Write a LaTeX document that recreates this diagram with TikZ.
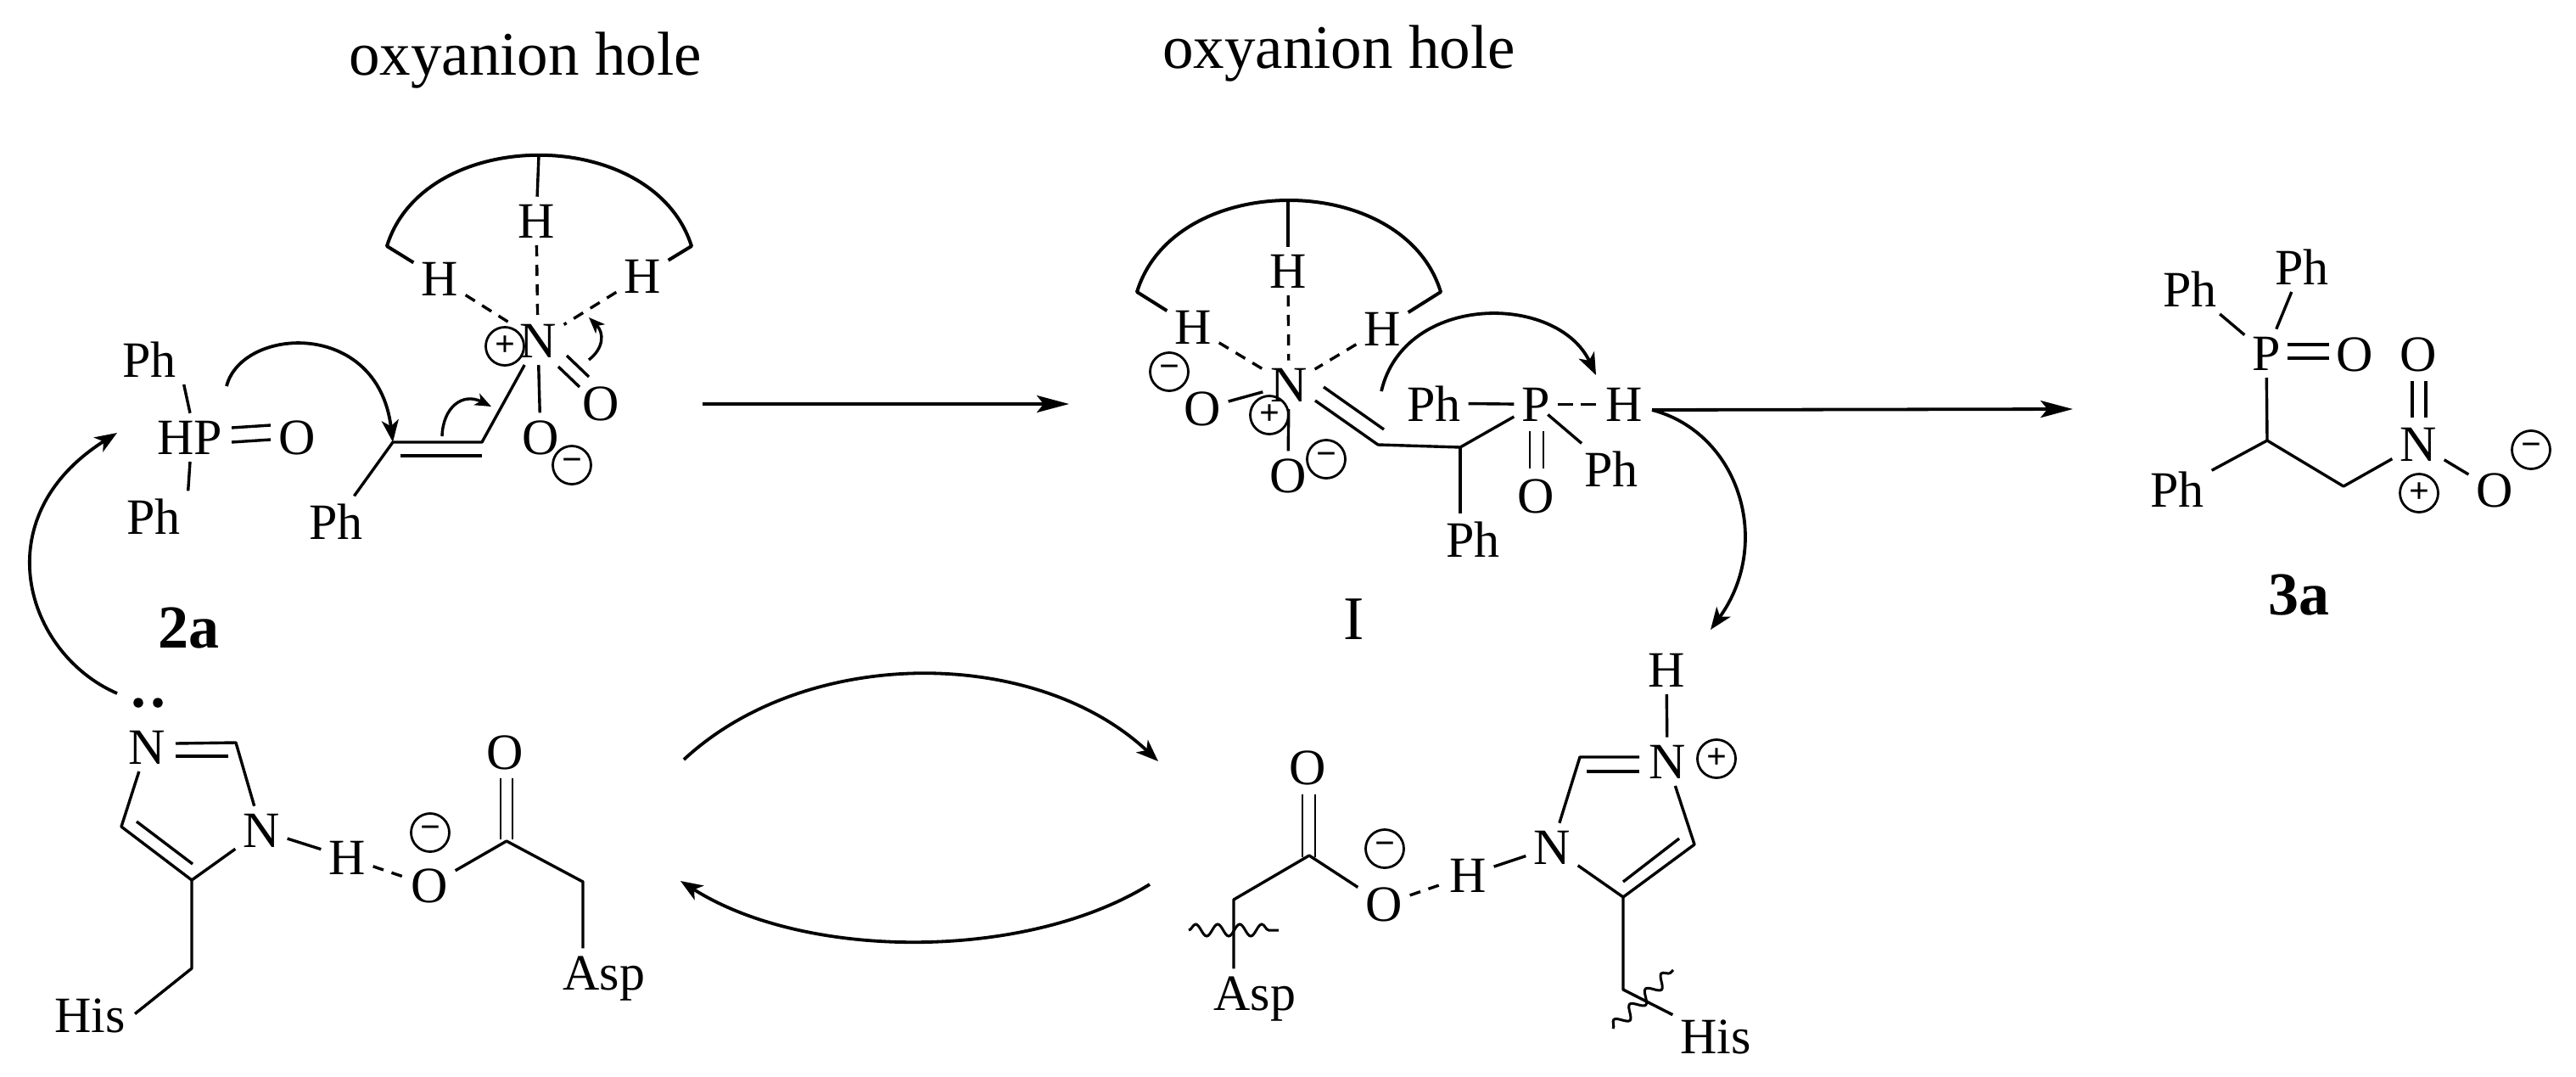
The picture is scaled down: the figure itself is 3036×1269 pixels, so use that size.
\documentclass[tikz,border=0pt]{standalone}
\usepackage{fontspec}
\setmainfont{Liberation Serif}
\usetikzlibrary{arrows.meta,decorations.pathmorphing,calc}
\newcommand\ptc[3]{\coordinate (#1) at (#2,#3);}
\newcommand\atom[4]{\node[atomlabel] (#1) at (#2,#3) {#4};}
\newcommand\chg[4]{\node[chargemark] (#1) at (#2,#3) {\bfseries #4};}
\tikzset{
  atomlabel/.style={anchor=base,inner sep=0pt,outer sep=9pt,font=\fontsize{60}{60}\selectfont},
  titlelabel/.style={anchor=base,inner sep=0pt,font=\fontsize{73}{73}\selectfont},
  boldlabel/.style={anchor=base,inner sep=0pt,font=\fontsize{72}{72}\selectfont\bfseries},
  chargemark/.style={circle,draw,line width=2.8pt,minimum size=45pt,inner sep=0pt,font=\fontsize{42}{42}\selectfont},
  bond/.style={line width=3.4pt},
  hbond/.style={line width=3.4pt,dash pattern=on 13pt off 10pt},
  hole/.style={line width=4pt,line join=round},
  curly/.style={line width=3.8pt,-{Stealth[length=26pt,width=20pt,inset=7pt]}},
  smallcurly/.style={line width=3.4pt,-{Stealth[length=19pt,width=15pt,inset=5pt]}},
  react/.style={line width=3.8pt,-{Stealth[length=38pt,width=20pt,inset=8pt]}},
  wiggle/.style={line width=3pt,decorate,decoration={snake,amplitude=7pt,segment length=26pt,pre length=0pt,post length=0pt}},
  lonepair/.style={circle,fill,inner sep=0pt,minimum size=11.5pt},
}
\begin{document}
\begin{tikzpicture}[x=1pt,y=-1pt]
\useasboundingbox (0,0) rectangle (3036,1269);
% ---------- titles and labels
\node[titlelabel] (title1) at (619,88) {oxyanion hole};
\node[titlelabel] (title2) at (1578,80) {oxyanion hole};
\node[boldlabel] (lab2a) at (222,763) {2a};
\node[boldlabel] (lab3a) at (2709,724) {3a};
\node[titlelabel] (labI) at (1596,753) {I};
% ---------- 2a + nitrostyrene in the oxyanion hole
\atom{aHP}{224}{535}{HP}
\atom{aOp}{350}{535}{O}
\atom{aPht}{176}{444}{Ph}
\atom{aPhl}{181}{629}{Ph}
\atom{aN}{634}{421}{N}
\atom{aHt}{632}{280}{H}
\atom{aHl}{518}{348}{H}
\atom{aHr}{757}{345}{H}
\atom{aOd}{708}{495}{O}
\atom{aOs}{637}{535}{O}
\atom{aPh}{396}{635}{Ph}
\chg{aplus}{595}{408}{+}
\chg{aminus}{674}{548}{−}
\draw[bond] (aHP.north) -- (aPht.south east);
\draw[bond] (aHP.south) -- (aPhl.north east);
\ptc{apa}{273}{504}\ptc{apb}{319}{501}\ptc{apc}{273}{521}\ptc{apd}{319}{518}
\draw[bond] (apa) -- (apb);
\draw[bond] (apc) -- (apd);
\ptc{aC1}{568}{521}\ptc{aC2}{463}{521}\ptc{aC3}{568}{537}\ptc{aC4}{472}{537}
\draw[bond,line join=round] (aN) -- (aC1) -- (aC2) -- (aPh);
\draw[bond] (aC3) -- (aC4);
\draw[hbond] (aHl) -- (aN);
\draw[hbond] (aHt) -- (aN);
\draw[hbond] (aHr) -- (aN);
\ptc{ana}{668}{419}\ptc{anb}{694}{444}\ptc{anc}{658}{432}\ptc{and}{683}{456}
\draw[bond] (ana) -- (anb);
\draw[bond] (anc) -- (and);
\draw[bond] (aN) -- (aOs);
\ptc{ahl}{456}{290}\ptc{ahr}{815}{290}\ptc{aht}{635}{183}
\draw[hole] (aHl) -- (ahl) .. controls (500,147) and (770,147) .. (ahr) -- (aHr);
\draw[bond] (aht) -- (aHt);
\ptc{acs1}{267}{455}
\draw[curly] (acs1) .. controls (285,385) and (445,375) .. (aC2);
\ptc{acs2}{521}{514}\ptc{ace2}{579}{479}
\draw[smallcurly] (acs2) .. controls (522,480) and (545,462) .. (ace2);
\ptc{acs3}{694}{424}\ptc{ace3}{694}{374}
\draw[smallcurly] (acs3) .. controls (712,410) and (712,392) .. (ace3);
% ---------- intermediate I
\atom{bN}{1519}{473}{N}
\atom{bHt}{1518}{339}{H}
\atom{bHl}{1406}{405}{H}
\atom{bHr}{1629}{407}{H}
\atom{bOa}{1417}{501}{O}
\atom{bOb}{1518}{580}{O}
\atom{bPhl}{1690}{496}{Ph}
\atom{bP}{1810}{496}{P}
\atom{bH}{1914}{496}{H}
\atom{bPhr}{1899}{573}{Ph}
\atom{bOc}{1810}{604}{O}
\atom{bPhb}{1736}{656}{Ph}
\chg{bminusa}{1378}{438}{−}
\chg{bplus}{1496}{489}{+}
\chg{bminusb}{1563}{541}{−}
\ptc{bhl}{1340}{344}\ptc{bhr}{1698}{344}\ptc{bht}{1518}{236}
\draw[hole] (bHl) -- (bhl) .. controls (1384,200) and (1654,200) .. (bhr) -- (bHr);
\draw[bond] (bht) -- (bHt);
\draw[hbond] (bHl) -- (bN);
\draw[hbond] (bHt) -- (bN);
\draw[hbond] (bHr) -- (bN);
\draw[bond] (bOa) -- (bN);
\draw[bond] (bN) -- (bOb);
\ptc{bna}{1560}{456}\ptc{bnb}{1631}{506}\ptc{bnc}{1550}{472}\ptc{bC1}{1624}{524}\ptc{bC2}{1721}{527}
\draw[bond] (bna) -- (bnb);
\draw[bond,line join=round] (bnc) -- (bC1) -- (bC2) -- (bP);
\draw[bond] (bC2) -- (bC2 |- bPhb.north);
\draw[bond] (bPhl) -- (bP);
\draw[hbond,dash pattern=on 18pt off 9pt] (bP) -- (bH);
\draw[bond,shorten <=-15pt] (bP) -- (bPhr);
\ptc{bpa}{1803}{508}\ptc{bpb}{1803}{552}\ptc{bpc}{1819}{508}\ptc{bpd}{1819}{552}
\draw[line width=2.8pt] (bpa) -- (bpb);
\draw[line width=2.8pt] (bpc) -- (bpd);
\ptc{bcs}{1628}{461}\ptc{bce}{1881}{442}
\draw[curly] (bcs) .. controls (1655,345) and (1835,345) .. (bce);
\ptc{bcf}{1947}{483}\ptc{bcg}{2016}{742}
\draw[curly] (bcf) .. controls (2050,510) and (2090,640) .. (bcg);
% ---------- His / Asp, lower left
\atom{cNa}{173}{900}{N}
\atom{cNb}{308}{998}{N}
\atom{cH}{409}{1030}{H}
\atom{cO}{506}{1063}{O}
\atom{cOt}{595}{906}{O}
\atom{cHis}{106}{1216}{His}
\atom{cAsp}{712}{1166}{Asp}
\chg{cminus}{507}{981}{−}
\node[lonepair] (cdota) at (163,828) {};
\node[lonepair] (cdotb) at (186,828) {};
\ptc{cda}{207}{876}\ptc{cC2}{278}{875}\ptc{cdb}{207}{891}\ptc{cdc}{269}{891}
\draw[bond,line join=round] (cda) -- (cC2) -- (cNb);
\draw[bond] (cdb) -- (cdc);
\ptc{cC5}{143}{974}\ptc{cC4}{226}{1037}\ptc{cdd}{161}{968}\ptc{cde}{227}{1018}\ptc{cC6}{226}{1141}
\draw[bond,line join=round] (cNa) -- (cC5) -- (cC4) -- (cNb);
\draw[bond] (cdd) -- (cde);
\draw[bond,line join=round,shorten >=3pt] (cC4) -- (cC6) -- (cHis.east);
\draw[bond] (cNb) -- (cH);
\draw[hbond] (cH) -- (cO);
\ptc{cC7}{597}{991}\ptc{cC8}{687}{1039}
\draw[bond,line join=round] (cO) -- (cC7) -- (cC8) -- (cC8 |- cAsp.north);
\ptc{cfa}{590}{917}\ptc{cfb}{590}{989}\ptc{cfc}{604}{917}\ptc{cfd}{604}{989}
\draw[line width=2.8pt] (cfa) -- (cfb);
\draw[line width=2.8pt] (cfc) -- (cfd);
\ptc{ccs}{138}{817}\ptc{cce}{138}{510}
\draw[curly] (ccs) .. controls (30,770) and (-20,610) .. (cce);
% ---------- His / Asp, lower right
\atom{dOt}{1541}{924}{O}
\atom{dO}{1631}{1085}{O}
\atom{dH}{1730}{1051}{H}
\atom{dN}{1829}{1018}{N}
\atom{dNp}{1965}{917}{N}
\atom{dHt}{1964}{809}{H}
\atom{dAsp}{1479}{1190}{Asp}
\atom{dHis}{2022}{1241}{His}
\chg{dminus}{1632}{1000}{−}
\chg{dplus}{2023}{894}{+}
\ptc{dC1}{1543}{1008}\ptc{dC2}{1454}{1060}
\draw[bond,line join=round] (dO) -- (dC1) -- (dC2) -- (dC2 |- dAsp.north);
\ptc{dfa}{1535}{936}\ptc{dfb}{1535}{1010}\ptc{dfc}{1550}{936}\ptc{dfd}{1550}{1010}
\draw[line width=2.8pt] (dfa) -- (dfb);
\draw[line width=2.8pt] (dfc) -- (dfd);
\draw[hbond] (dO) -- (dH);
\draw[bond] (dH) -- (dN);
\ptc{dC3}{1862}{892}\ptc{dna}{1932}{892}\ptc{dnb}{1870}{909}\ptc{dnc}{1932}{909}
\draw[bond,line join=round] (dN) -- (dC3) -- (dna);
\draw[bond] (dnb) -- (dnc);
\draw[bond] (dHt) -- (dNp);
\ptc{dC4}{1997}{995}\ptc{dC5}{1913}{1057}\ptc{dnd}{1979}{988}\ptc{dne}{1913}{1039}\ptc{dC6}{1913}{1166}
\draw[bond,line join=round] (dNp) -- (dC4) -- (dC5) -- (dN);
\draw[bond] (dnd) -- (dne);
\draw[bond,line join=round] (dC5) -- (dC6) -- (dHis);
\ptc{dwa}{1401}{1096}\ptc{dwb}{1507}{1096}\ptc{dwc}{1901}{1212}\ptc{dwd}{1972}{1143}
\draw[wiggle] (dwa) -- (dwb);
\draw[wiggle] (dwc) -- (dwd);
% ---------- product 3a
\atom{eP}{2671}{436}{P}
\atom{eO}{2775}{437}{O}
\atom{eOb}{2850}{437}{O}
\atom{eN}{2850}{543}{N}
\atom{eOc}{2940}{597}{O}
\atom{ePha}{2581}{361}{Ph}
\atom{ePhb}{2713}{335}{Ph}
\atom{ePhc}{2566}{597}{Ph}
\chg{eplus}{2851}{581}{+}
\chg{eminus}{2983}{530}{−}
\draw[bond] (eP) -- (ePha);
\draw[bond] (eP) -- (ePhb);
\ptc{eC}{2672}{519}\ptc{eCH}{2762}{573}
\draw[bond] (eP) -- (eC);
\draw[bond] (eC) -- (ePhc);
\draw[bond,line join=round] (eC) -- (eCH) -- (eN);
\draw[bond] (eN) -- (eOc);
\ptc{epa}{2696}{406}\ptc{epb}{2745}{406}\ptc{epc}{2696}{422}\ptc{epd}{2745}{422}
\draw[bond] (epa) -- (epb);
\draw[bond] (epc) -- (epd);
\ptc{ena}{2843}{449}\ptc{enb}{2843}{492}\ptc{enc}{2859}{449}\ptc{end}{2859}{492}
\draw[bond] (ena) -- (enb);
\draw[bond] (enc) -- (end);
% ---------- reaction arrows
\ptc{ra}{828}{476}\ptc{rb}{1260}{476}\ptc{rc}{2443}{482}
\draw[react] (ra) -- (rb);
\draw[react] (bcf) -- (rc);
\ptc{rd}{806}{895}\ptc{re}{1365}{897}\ptc{rf}{1355}{1042}\ptc{rg}{802}{1038}
\draw[curly] (rd) .. controls (950,761) and (1220,761) .. (re);
\draw[curly] (rf) .. controls (1210,1132) and (950,1132) .. (rg);
\end{tikzpicture}
\end{document}
